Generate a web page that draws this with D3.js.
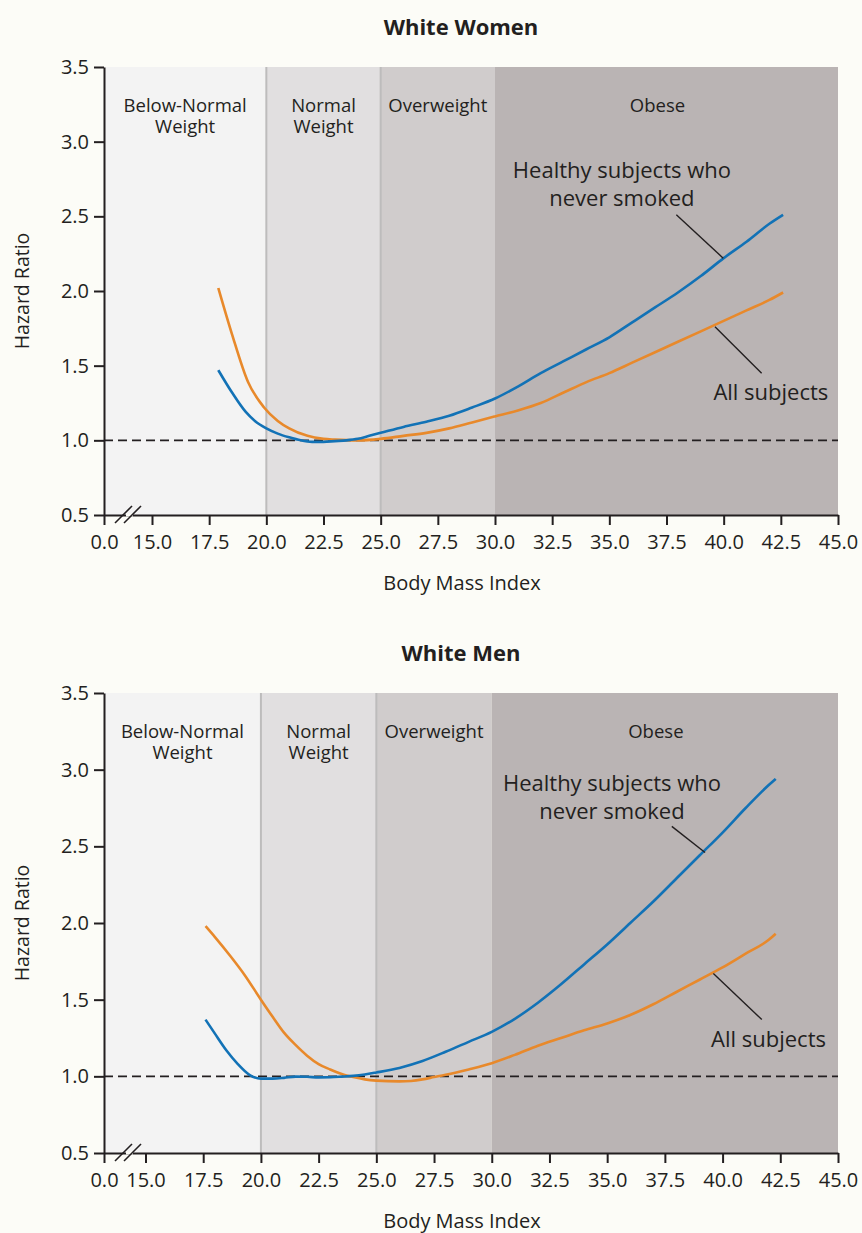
<!DOCTYPE html>
<html>
<head>
<meta charset="utf-8">
<script src="https://cdn.jsdelivr.net/npm/d3@7"></script>
<style>
  body { margin: 0; background: #fcfcf7; }
  svg { display: block; font-family: "Open Sans", sans-serif; }
</style>
</head>
<body>
<script>
// BMI tick values and the weight categories
const xTicks = [0, 15, 17.5, 20, 22.5, 25, 27.5, 30, 32.5, 35, 37.5, 40, 42.5, 45]
const yTicks = [0.5, 1.0, 1.5, 2.0, 2.5, 3.0, 3.5]
const bands = [
  { name: ["Below-Normal", "Weight"], from: 0, to: 20, fill: "#f3f3f3" },
  { name: ["Normal", "Weight"], from: 20, to: 25, fill: "#e1dfe0" },
  { name: ["Overweight"], from: 25, to: 30, fill: "#d0cccc" },
  { name: ["Obese"], from: 30, to: 45, fill: "#bab4b4" }
]

// White women
const womenHealthyBmi = [17.9, 18.5, 19.1, 19.5, 20.0, 20.5, 21.0, 21.5, 22.0, 22.5, 23.0, 23.5, 24.0, 24.5, 25.0, 26.0, 27.0, 28.0, 29.0, 30.0, 31.0, 32.0, 33.0, 34.0, 35.0, 36.0, 37.0, 38.0, 39.0, 40.0, 41.0, 42.0, 42.6]
const womenHealthyHr  = [1.47, 1.32, 1.19, 1.13, 1.08, 1.045, 1.02, 1.0, 0.99, 0.99, 0.995, 1.0, 1.01, 1.03, 1.05, 1.09, 1.125, 1.165, 1.22, 1.28, 1.36, 1.45, 1.53, 1.61, 1.69, 1.79, 1.89, 1.99, 2.10, 2.22, 2.33, 2.45, 2.51]
const womenAllBmi = [17.9, 18.5, 19.2, 19.9, 20.5, 21.0, 21.8, 22.5, 23.0, 24.0, 25.0, 26.0, 27.0, 28.0, 29.0, 30.0, 31.0, 32.0, 33.0, 34.0, 35.0, 36.0, 37.0, 38.0, 39.0, 40.0, 41.0, 42.0, 42.6]
const womenAllHr  = [2.02, 1.71, 1.39, 1.22, 1.13, 1.08, 1.03, 1.01, 1.005, 1.0, 1.01, 1.03, 1.05, 1.08, 1.12, 1.16, 1.2, 1.25, 1.32, 1.39, 1.45, 1.52, 1.59, 1.66, 1.73, 1.80, 1.87, 1.94, 1.99]

// White men
const menHealthyBmi = [17.6, 18.0, 18.5, 19.0, 19.5, 20.0, 20.5, 21.0, 21.5, 22.0, 22.5, 23.0, 23.5, 24.0, 24.5, 25.0, 26.0, 27.0, 28.0, 29.0, 30.0, 31.0, 32.0, 33.0, 34.0, 35.0, 36.0, 37.0, 38.0, 39.0, 40.0, 41.0, 42.0, 42.3]
const menHealthyHr  = [1.37, 1.28, 1.17, 1.08, 1.01, 0.985, 0.985, 0.99, 0.998, 0.997, 0.993, 0.994, 0.998, 1.003, 1.012, 1.025, 1.055, 1.1, 1.16, 1.225, 1.29, 1.375, 1.48, 1.6, 1.73, 1.86, 2.0, 2.14, 2.29, 2.44, 2.59, 2.75, 2.90, 2.94]
const menAllBmi = [17.6, 18.0, 18.7, 19.3, 20.0, 20.5, 21.0, 21.5, 22.0, 22.5, 23.0, 23.5, 24.0, 24.5, 25.0, 26.0, 26.5, 27.0, 27.5, 28.0, 29.0, 30.0, 31.0, 32.0, 33.0, 34.0, 35.0, 36.0, 37.0, 38.0, 39.0, 40.0, 41.0, 42.0, 42.3]
const menAllHr  = [1.98, 1.91, 1.78, 1.66, 1.50, 1.39, 1.285, 1.205, 1.135, 1.08, 1.045, 1.015, 0.995, 0.98, 0.972, 0.967, 0.97, 0.98, 0.995, 1.01, 1.045, 1.085, 1.14, 1.2, 1.25, 1.3, 1.345, 1.4, 1.47, 1.55, 1.63, 1.71, 1.80, 1.89, 1.93]

const blue = "#1272b6"
const orange = "#e8892b"
const ink = "#231f20"

const W = 862, H = 1233

const svg = d3.select("body").append("svg")
    .attr("width", W)
    .attr("height", H)

function zip(xs, ys) {
  return xs.map((x, i) => ({ bmi: x, hr: ys[i] }))
}

function drawPanel(opt) {
  let g = svg.append("g")

  // polylinear scale with the break between 0 and 15
  let x = d3.scaleLinear()
      .domain([0, 15, 45])
      .range([opt.left, opt.x15, opt.right])

  let y = d3.scaleLinear()
      .domain([0.5, 3.5])
      .range([opt.bottom, opt.top])

  // background categories
  g.append("g")
    .selectAll("rect")
    .data(bands)
    .join("rect")
      .attr("x", d => x(d.from))
      .attr("y", y(3.5))
      .attr("width", d => x(d.to) - x(d.from))
      .attr("height", y(0.5) - y(3.5))
      .attr("fill", d => d.fill)

  g.append("g")
    .selectAll("line")
    .data([20, 25])
    .join("line")
      .attr("x1", d => x(d)).attr("x2", d => x(d))
      .attr("y1", y(3.5)).attr("y2", y(0.5))
      .attr("stroke", "#bdbcbc")
      .attr("stroke-width", 2)

  // one text per label line
  let labelLines = bands.flatMap(b => b.name.map((t, i) => ({ band: b, t: t, i: i })))
  g.append("g")
      .attr("font-size", 18.5)
      .attr("fill", ink)
      .attr("text-anchor", "middle")
    .selectAll("text")
    .data(labelLines)
    .join("text")
      .attr("x", d => (x(d.band.from) + x(d.band.to)) / 2 - (d.band.to === 45 ? 9 : 0))
      .attr("y", d => y(3.5) + 45 + d.i * 21)
      .text(d => d.t)

  // reference line at HR = 1
  g.append("line")
      .attr("x1", x(0)).attr("x2", x(45))
      .attr("y1", y(1)).attr("y2", y(1))
      .attr("stroke", ink)
      .attr("stroke-width", 1.6)
      .attr("stroke-dasharray", "9,5")

  // curves
  let line = d3.line()
      .x(d => x(d.bmi))
      .y(d => y(d.hr))
      .curve(d3.curveMonotoneX)

  g.append("g")
      .attr("fill", "none")
      .attr("stroke-width", 2.6)
    .selectAll("path")
    .data(opt.series)
    .join("path")
      .attr("stroke", d => d.color)
      .attr("d", d => line(d.values))

  // annotations
  let ann = opt.notes
  g.append("g")
      .attr("stroke", ink)
      .attr("stroke-width", 1.4)
    .selectAll("line")
    .data(ann)
    .join("line")
      .attr("x1", d => x(d.lead[0][0])).attr("y1", d => y(d.lead[0][1]))
      .attr("x2", d => x(d.lead[1][0])).attr("y2", d => y(d.lead[1][1]))

  let annLines = ann.flatMap(a => a.text.map((t, i) => ({ a: a, t: t, i: i })))
  g.append("g")
      .attr("font-size", 22)
      .attr("fill", ink)
    .selectAll("text")
    .data(annLines)
    .join("text")
      .attr("text-anchor", d => d.a.anchor)
      .attr("x", d => x(d.a.at[0]))
      .attr("y", d => y(d.a.at[1]) + d.i * 28)
      .text(d => d.t)

  // axes
  let yAxis = d3.axisLeft(y)
      .tickValues(yTicks)
      .tickFormat(d3.format(".1f"))
      .tickSize(10)
      .tickSizeOuter(0)
      .tickPadding(5)

  let xAxis = d3.axisBottom(x)
      .tickValues(xTicks)
      .tickFormat(d3.format(".1f"))
      .tickSize(10)
      .tickSizeOuter(0)
      .tickPadding(10)

  let ya = g.append("g")
      .attr("transform", `translate(${opt.left},0)`)
      .call(yAxis)
  let xa = g.append("g")
      .attr("transform", `translate(0,${opt.bottom})`)
      .call(xAxis)

  for (let a of [xa, ya]) {
    a.attr("font-family", null)
     .attr("font-size", 20)
    a.selectAll("path, line")
      .attr("stroke", ink)
      .attr("stroke-width", 2)
    a.selectAll("text").attr("fill", ink)
  }

  // axis break between 0 and 15
  let bx = opt.left + 24
  g.append("line")
      .attr("x1", bx - 2).attr("x2", bx + 5)
      .attr("y1", opt.bottom).attr("y2", opt.bottom)
      .attr("stroke", "#fcfcf7")
      .attr("stroke-width", 3)
  g.append("g")
      .attr("stroke", ink)
      .attr("stroke-width", 1.6)
    .selectAll("line")
    .data([-9, 0])
    .join("line")
      .attr("x1", d => bx + d - 4).attr("y1", opt.bottom + 8)
      .attr("x2", d => bx + d + 13).attr("y2", opt.bottom - 9)

  // titles
  g.append("text")
      .attr("x", 461)
      .attr("y", opt.top - 32)
      .attr("text-anchor", "middle")
      .attr("font-size", 22)
      .attr("font-weight", "bold")
      .attr("fill", ink)
      .text(opt.title)

  g.append("text")
      .attr("x", 462)
      .attr("y", opt.bottom + 75)
      .attr("text-anchor", "middle")
      .attr("font-size", 20)
      .attr("fill", ink)
      .text("Body Mass Index")

  g.append("text")
      .attr("transform", `translate(29,${(opt.top + opt.bottom) / 2}) rotate(-90)`)
      .attr("text-anchor", "middle")
      .attr("font-size", 19.5)
      .attr("fill", ink)
      .text("Hazard Ratio")
}

drawPanel({
  title: "White Women",
  left: 104, x15: 152, right: 838,
  top: 67, bottom: 515,
  series: [
    { color: orange, values: zip(womenAllBmi, womenAllHr) },
    { color: blue, values: zip(womenHealthyBmi, womenHealthyHr) }
  ],
  notes: [
    { text: ["Healthy subjects who", "never smoked"], anchor: "middle", at: [35.55, 2.76], lead: [[37.93, 2.51], [39.98, 2.22]] },
    { text: ["All subjects"], anchor: "start", at: [39.55, 1.27], lead: [[39.62, 1.76], [41.66, 1.45]] }
  ]
})

drawPanel({
  title: "White Men",
  left: 104, x15: 145.5, right: 838,
  top: 693, bottom: 1153,
  series: [
    { color: orange, values: zip(menAllBmi, menAllHr) },
    { color: blue, values: zip(menHealthyBmi, menHealthyHr) }
  ],
  notes: [
    { text: ["Healthy subjects who", "never smoked"], anchor: "middle", at: [35.21, 2.86], lead: [[37.8, 2.63], [39.24, 2.46]] },
    { text: ["All subjects"], anchor: "start", at: [39.5, 1.19], lead: [[39.6, 1.67], [41.7, 1.37]] }
  ]
})
</script>
</body>
</html>
